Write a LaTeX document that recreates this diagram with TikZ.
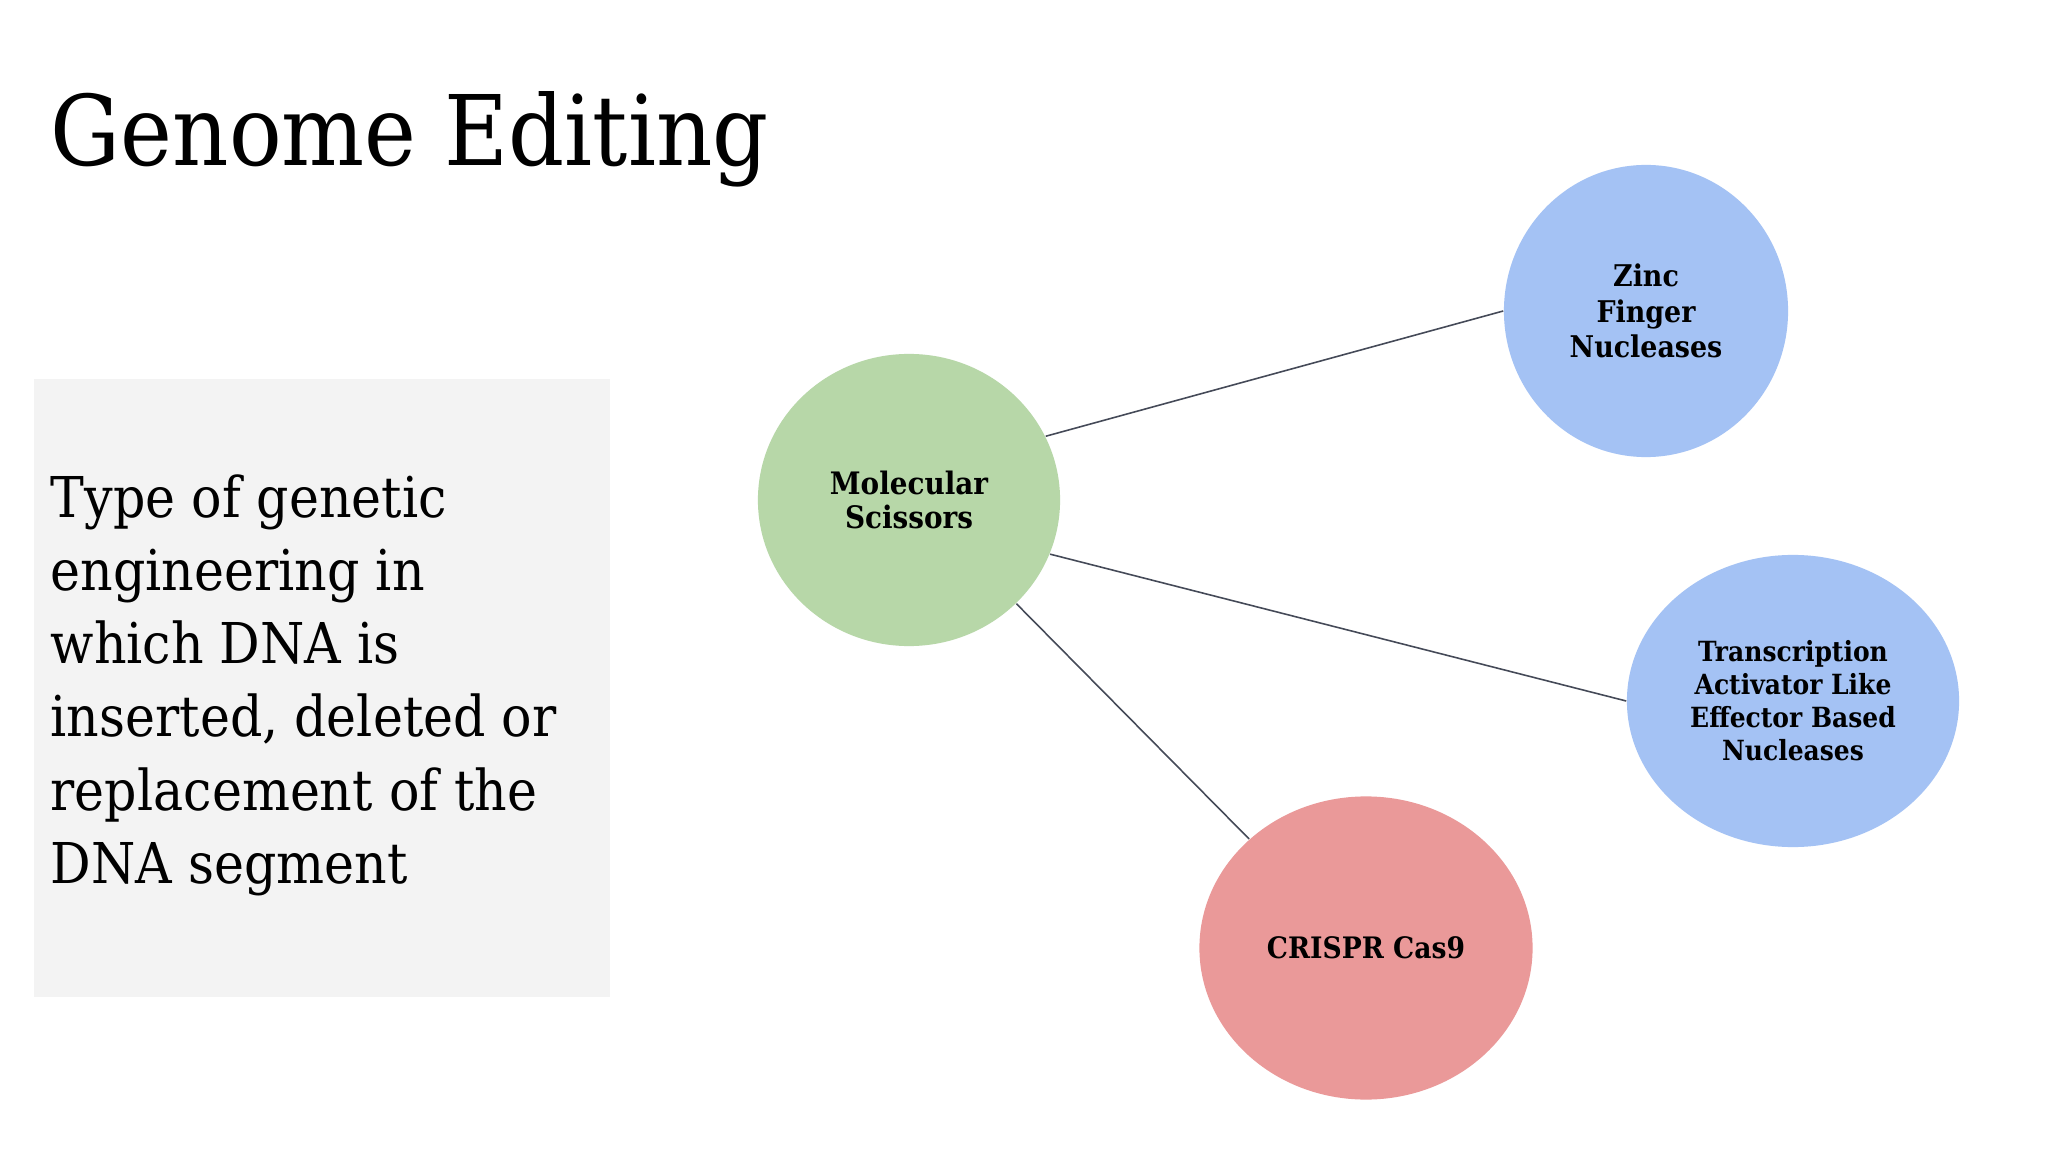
\documentclass[tikz,border=0pt]{standalone}
\usepackage{fontspec}
\setmainfont{DejaVu Serif}[FakeStretch=0.9]
\usetikzlibrary{shapes.geometric}
\definecolor{msgreen}{HTML}{B7D7A8}
\definecolor{znblue}{HTML}{A4C2F4}
\definecolor{crred}{HTML}{EA9999}
\definecolor{boxgray}{HTML}{F3F3F3}
\definecolor{linkcol}{HTML}{454A58}
\tikzset{
  bubble/.style={ellipse, draw=none, inner sep=0pt, align=center, text=black, font=\bfseries},
  link/.style={draw=linkcol, line width=0.45pt},
}
\begin{document}
\begin{tikzpicture}[x=0.01cm, y=-0.01cm]
\useasboundingbox[fill=white] (0,0) rectangle (2048,1152);
% text panel
\fill[boxgray] (34,379) rectangle (610,997);
\node[anchor=base west, inner sep=0pt, font=\fontsize{27.7}{33}\selectfont] (title) at (50,166) {Genome Editing};
\node[anchor=north west, inner sep=0pt, align=left, font=\fontsize{16}{20.8}\selectfont] (desc) at (50,474)
  {Type of genetic\\engineering in\\which DNA is\\inserted, deleted or\\replacement of the\\DNA segment};
% bubbles
\node[bubble, fill=msgreen, minimum width=3.02cm, minimum height=2.92cm,
      font=\bfseries\fontsize{8.8}{9.7}\selectfont] (ms) at (909,500) {Molecular\\Scissors};
\node[bubble, fill=znblue, minimum width=2.84cm, minimum height=2.92cm,
      font=\bfseries\fontsize{8.5}{10.1}\selectfont] (zfn) at (1646,311) {Zinc\\Finger\\Nucleases};
\node[bubble, fill=znblue, minimum width=3.32cm, minimum height=2.92cm,
      font=\bfseries\fontsize{7.9}{9.4}\selectfont] (talen) at (1793,701) {Transcription\\Activator Like\\Effector Based\\Nucleases};
\node[bubble, fill=crred, minimum width=3.33cm, minimum height=3.03cm,
      font=\bfseries\fontsize{8.4}{10}\selectfont] (crispr) at (1366,948) {CRISPR Cas9};
% connectors
\draw[link] (ms.25) -- (zfn.west);
\draw[link] (ms.-21) -- (talen.west);
\draw[link] (ms.-44) -- (crispr.137);
\end{tikzpicture}
\end{document}
